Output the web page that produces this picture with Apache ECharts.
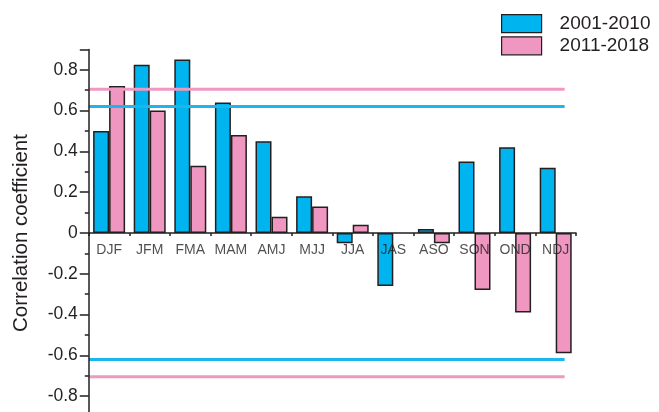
<!DOCTYPE html>
<html>
<head>
<meta charset="utf-8">
<script src="https://cdn.jsdelivr.net/npm/echarts@6/dist/echarts.min.js"></script>
<style>
html,body{margin:0;padding:0;background:#fff;}
#chart{width:659px;height:412px;}
</style>
</head>
<body>
<div id="chart"></div>
<script>
var categories = ['DJF','JFM','FMA','MAM','AMJ','MJJ','JJA','JAS','ASO','SON','OND','NDJ'];
var series2001 = [0.50, 0.825, 0.85, 0.64, 0.45, 0.18, -0.05, -0.26, 0.02, 0.35, 0.42, 0.32];
var series2011 = [0.72, 0.60, 0.33, 0.48, 0.08, 0.13, 0.04, null, -0.05, -0.28, -0.39, -0.59];
var seriesNames = ['2001-2010', '2011-2018'];
var threshold2001 = 0.62;
var threshold2011 = 0.705;
var thresholdSpan = [0, 11.72];
var yMajorTicks = [-0.8, -0.6, -0.4, -0.2, 0, 0.2, 0.4, 0.6, 0.8, 0.9];
var yLabels = [-0.8, -0.6, -0.4, -0.2, 0, 0.2, 0.4, 0.6, 0.8];
var yMinorTicks = [-0.9, -0.7, -0.5, -0.3, -0.1, 0.1, 0.3, 0.5, 0.7];

var ink = '#231f20';
var blue = '#00b5ef';
var pink = '#ef97c0';
var font = 'Liberation Sans, Arial, sans-serif';

function thresholdLine(v) {
  return [[thresholdSpan[0], v], [thresholdSpan[1], v]];
}

var categoryLabelData = categories.map(function (c) { return [c, 0]; });

var chart = echarts.init(document.getElementById('chart'));
chart.setOption({
  animation: false,
  backgroundColor: '#fff',
  grid: { left: 88.8, right: 83, top: 49.4, bottom: -4.6, containLabel: false, outerBoundsMode: 'none' },
  legend: {
    data: seriesNames,
    orient: 'vertical',
    left: 496,
    top: 9,
    icon: 'rect',
    itemWidth: 40,
    itemHeight: 18,
    itemGap: 3,
    itemStyle: { borderColor: ink, borderWidth: 1.2 },
    textStyle: { fontFamily: font, fontSize: 19, color: ink, padding: [0, 0, 0, 13] }
  },
  xAxis: [
    {
      type: 'category',
      data: categories,
      position: 'bottom',
      axisLine: { onZero: true, lineStyle: { color: ink, width: 1.5 } },
      axisTick: { alignWithLabel: true, length: 6, lineStyle: { color: ink, width: 1.5 } },
      axisLabel: { show: false },
      splitLine: { show: false },
      z: 4
    },
    {
      type: 'category',
      data: categories,
      position: 'bottom',
      axisLine: { show: false, onZero: true },
      axisTick: { show: true, length: 3, lineStyle: { color: ink, width: 1.5 } },
      axisLabel: { show: false },
      splitLine: { show: false },
      z: 4
    },
    {
      type: 'value',
      show: false,
      min: 0,
      max: 12
    }
  ],
  yAxis: [
    {
      type: 'value',
      min: -0.9,
      max: 0.9,
      position: 'left',
      name: 'Correlation coefficient',
      nameLocation: 'middle',
      nameGap: 57,
      nameTextStyle: { fontFamily: font, fontSize: 20.5, color: ink },
      axisLine: { show: true, onZero: false, lineStyle: { color: ink, width: 1.5 } },
      axisTick: { show: true, length: 9, customValues: yMajorTicks, lineStyle: { color: ink, width: 1.5 } },
      axisLabel: {
        fontFamily: font, fontSize: 17.5, color: ink, margin: 11,
        customValues: yLabels,
        formatter: function (v) { return v === 0 ? '0' : (Math.round(v * 10) / 10).toFixed(1); }
      },
      splitLine: { show: false },
      z: 4
    },
    {
      type: 'value',
      min: -0.9,
      max: 0.9,
      position: 'left',
      axisLine: { show: false, onZero: false },
      axisTick: { show: true, length: 4, customValues: yMinorTicks, lineStyle: { color: ink, width: 1.5 } },
      axisLabel: { show: false },
      splitLine: { show: false }
    }
  ],
  series: [
    {
      name: seriesNames[0],
      type: 'bar',
      xAxisIndex: 0,
      yAxisIndex: 0,
      data: series2001,
      barWidth: 16,
      barGap: '0%',
      z: 2,
      itemStyle: { color: blue, borderColor: ink, borderWidth: 1.5 }
    },
    {
      name: seriesNames[1],
      type: 'bar',
      xAxisIndex: 0,
      yAxisIndex: 0,
      data: series2011,
      barWidth: 16,
      barGap: '0%',
      z: 2,
      itemStyle: { color: pink, borderColor: ink, borderWidth: 1.5 }
    },
    {
      name: 'categoryLabels', type: 'scatter', xAxisIndex: 0, yAxisIndex: 0,
      data: categoryLabelData, symbolSize: 0, silent: true, z: 6,
      label: {
        show: true, position: 'bottom', distance: 10,
        formatter: function (p) { return p.value[0]; },
        fontFamily: font, fontSize: 14, color: ink
      }
    },
    {
      name: 'th2001p', type: 'line', xAxisIndex: 2, yAxisIndex: 0, symbol: 'none', silent: true,
      data: thresholdLine(threshold2001), lineStyle: { color: '#1cb6ec', width: 3 }, z: 3
    },
    {
      name: 'th2001n', type: 'line', xAxisIndex: 2, yAxisIndex: 0, symbol: 'none', silent: true,
      data: thresholdLine(-threshold2001), lineStyle: { color: '#1cb6ec', width: 3 }, z: 3
    },
    {
      name: 'th2011p', type: 'line', xAxisIndex: 2, yAxisIndex: 0, symbol: 'none', silent: true,
      data: thresholdLine(threshold2011), lineStyle: { color: '#ef98c2', width: 3 }, z: 3
    },
    {
      name: 'th2011n', type: 'line', xAxisIndex: 2, yAxisIndex: 0, symbol: 'none', silent: true,
      data: thresholdLine(-threshold2011), lineStyle: { color: '#ef98c2', width: 3 }, z: 3
    }
  ]
});
</script>
</body>
</html>
